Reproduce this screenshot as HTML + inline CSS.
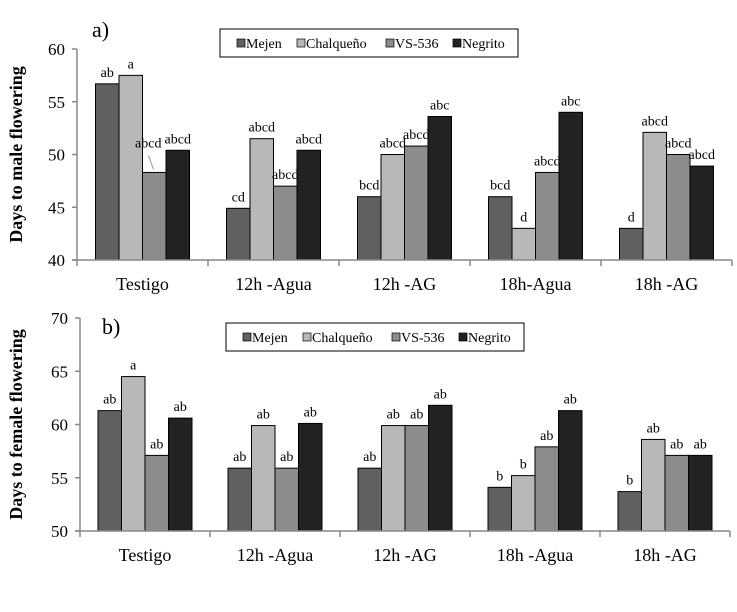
<!DOCTYPE html>
<html><head><meta charset="utf-8"><style>
body{margin:0;background:#fff;}
svg text{font-family:"Liberation Serif",serif;fill:#000;}
</style></head><body>
<svg id="c" width="737" height="607" xmlns="http://www.w3.org/2000/svg"></svg>
<script>
const categoriesA = ["Testigo","12h -Agua","12h -AG","18h-Agua","18h -AG"];
const categoriesB = ["Testigo","12h -Agua","12h -AG","18h -Agua","18h -AG"];
const seriesNames = ["Mejen","Chalqueño","VS-536","Negrito"];
const colors = ["#606060","#b8b8b8","#8c8c8c","#222222"];
const maleValues = [[56.7,57.5,48.3,50.4],[44.9,51.5,47,50.4],[46,50,50.8,53.6],[46,43,48.3,54],[43,52.1,50,48.9]];
const maleLetters = [["ab","a","abcd","abcd"],["cd","abcd","abcd","abcd"],["bcd","abcd","abcd","abc"],["bcd","d","abcd","abc"],["d","abcd","abcd","abcd"]];
const femaleValues = [[61.3,64.5,57.1,60.6],[55.9,59.9,55.9,60.1],[55.9,59.9,59.9,61.8],[54.1,55.2,57.9,61.3],[53.7,58.6,57.1,57.1]];
const femaleLetters = [["ab","a","ab","ab"],["ab","ab","ab","ab"],["ab","ab","ab","ab"],["b","b","ab","ab"],["b","ab","ab","ab"]];
const ticksA = [40,45,50,55,60];
const ticksB = [50,55,60,65,70];

const svg = document.getElementById('c');
const NS = "http://www.w3.org/2000/svg";
function mk(tag, attrs, parent){const e=document.createElementNS(NS,tag);for(const k in attrs)e.setAttribute(k,attrs[k]);(parent||svg).appendChild(e);return e;}

function chart(cfg){
  const g = mk('g',{});
  
  
  const y = v => cfg.y0 - (v - cfg.vmin)/(cfg.vmax - cfg.vmin)*(cfg.y0 - cfg.y1);
  const gx = i => cfg.x0 + i*cfg.gw;
  cfg.values.forEach((grp,i)=>{
    grp.forEach((v,j)=>{
      const bx = gx(i) + cfg.pad + j*cfg.bw;
      const r = mk('rect',{x:bx,y:y(v),width:cfg.bw,height:cfg.y0-y(v),fill:colors[j],stroke:'#000','stroke-width':1},g);
      
      
      let lx = bx+cfg.bw/2, ly = y(v)-7;
      if(cfg.leader && i===0 && j===2){
        lx -= 6; ly -= 18;
        mk('line',{x1:bx+6,y1:y(v)-17,x2:bx+11,y2:y(v)-3,stroke:'#999','stroke-width':1},g);
      }
      const t = mk('text',{x:lx,y:ly,'text-anchor':'middle','font-size':14},g);
      t.textContent = cfg.letters[i][j];
      
      
    });
    const lb = mk('text',{x:gx(i)+cfg.gw/2,y:cfg.y0+30,'text-anchor':'middle','font-size':18},g);
    lb.textContent = cfg.cats[i];
    
    
  });
  mk('line',{x1:cfg.x0,y1:cfg.y1,x2:cfg.x0,y2:cfg.y0,stroke:'#888','stroke-width':1.5},g);
  mk('line',{x1:cfg.x0-5,y1:cfg.y0,x2:cfg.x0+5*cfg.gw,y2:cfg.y0,stroke:'#888','stroke-width':1.5},g);
  for(let i=0;i<=5;i++) mk('line',{x1:gx(i),y1:cfg.y0,x2:gx(i),y2:cfg.y0+6,stroke:'#888','stroke-width':1.5},g);
  cfg.ticks.forEach(tv=>{
    mk('line',{x1:cfg.x0-5,y1:y(tv),x2:cfg.x0,y2:y(tv),stroke:'#888','stroke-width':1.5},g);
    const t = mk('text',{x:cfg.x0-12,y:y(tv)+6,'text-anchor':'end','font-size':17},g);
    t.textContent = tv;
    
    
  });
  const yt = mk('text',{x:0,y:0,'text-anchor':'middle','font-size':18,'font-weight':'bold',transform:`translate(22,${(cfg.y0+cfg.y1)/2}) rotate(-90)`},g);
  yt.textContent = cfg.ytitle;
  
  
  const pl = mk('text',{x:cfg.panelX,y:cfg.panelY,'font-size':22},g);
  pl.textContent = cfg.panel;
  
  
  const lg = mk('g',{},g);
  
  
  mk('rect',{x:cfg.lx,y:cfg.ly,width:298,height:28,fill:'#fff',stroke:'#000','stroke-width':1},lg);
  const offs=[17,77,166,233];
  seriesNames.forEach((n,j)=>{
    mk('rect',{x:cfg.lx+offs[j],y:cfg.ly+10,width:8,height:8,fill:colors[j],stroke:'#000','stroke-width':0.7},lg);
    const t = mk('text',{x:cfg.lx+offs[j]+9,y:cfg.ly+19,'font-size':14},lg);
    t.textContent = n;
    
    
  });
}
chart({name:'male-flowering-chart',leader:true,x0:77,gw:131,pad:18.5,bw:23.5,y0:260,y1:49,vmin:40,vmax:60,values:maleValues,letters:maleLetters,cats:categoriesA,ticks:ticksA,ytitle:'Days to male flowering',panel:'a)',panelX:92,panelY:37,lx:220,ly:29});
chart({name:'female-flowering-chart',x0:80,gw:130,pad:18,bw:23.5,y0:531,y1:318,vmin:50,vmax:70,values:femaleValues,letters:femaleLetters,cats:categoriesB,ticks:ticksB,ytitle:'Days to female flowering',panel:'b)',panelX:102,panelY:334,lx:226,ly:323});
</script>
</body></html>
